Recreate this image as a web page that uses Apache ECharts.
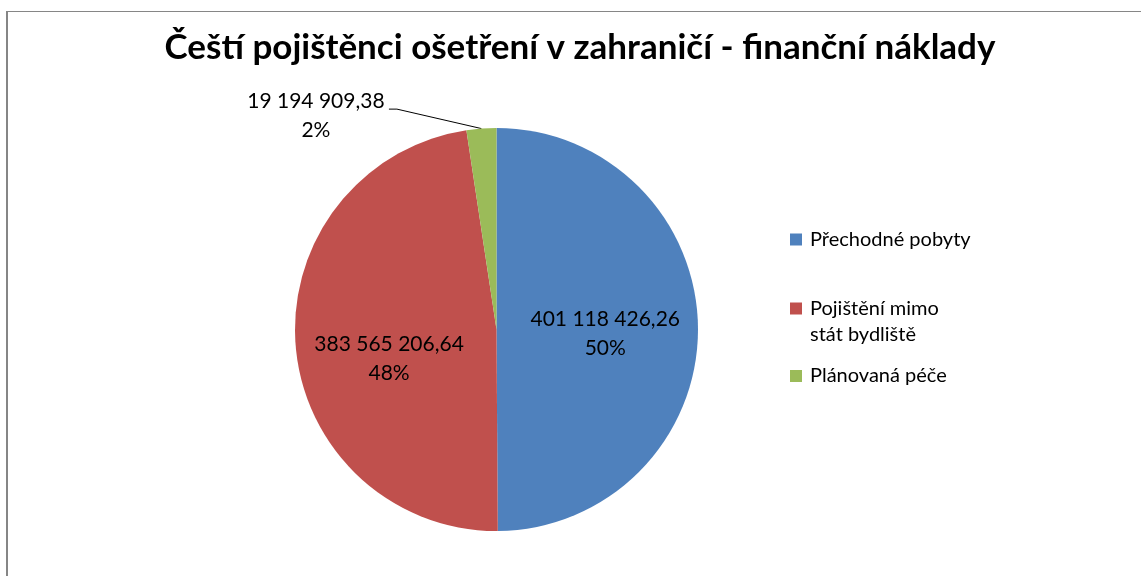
<!DOCTYPE html>
<html>
<head>
<meta charset="utf-8">
<script src="https://cdn.jsdelivr.net/npm/echarts@6/dist/echarts.min.js"></script>
<style>
html, body { margin: 0; padding: 0; background: #fff; }
#pie { width: 1141px; height: 576px; }
</style>
</head>
<body>
<div id="pie"></div>
<script>
var titleText = 'Čeští pojištěnci ošetření v zahraničí - finanční náklady';
var categories = ['Přechodné pobyty', 'Pojištění mimo stát bydliště', 'Plánovaná péče'];
var legendLabels = ['Přechodné pobyty', 'Pojištění mimo\nstát bydliště', 'Plánovaná péče'];
var values = [401118426.26, 383565206.64, 19194909.38];
var colors = ['#4F81BD', '#C0504D', '#9BBB59'];

var pie = echarts.init(document.getElementById('pie'));

// 401 118 426,26
function fmt(v){
    var p = v.toFixed(2).split('.');
    return p[0].replace(/\B(?=(\d{3})+(?!\d))/g, ' ') + ',' + p[1];
}

var data = [];
for (var i = 0; i < categories.length; i++) {
    data.push({ name: categories[i], value: values[i], itemStyle: { color: colors[i] } });
}

// small nudges so the inside labels sit where the original has them
var nudge = [[5, 5], [-4, 21], null];

function oneLegend(idx, top){
    return {
        data: [categories[idx]],
        orient: 'vertical',
        left: 790,
        top: top,
        padding: 0,
        icon: 'rect',
        itemWidth: 12,
        itemHeight: 12,
        formatter: function(name){
            var t = legendLabels[categories.indexOf(name)];
            // two-line entry: blank line on top keeps the square level with the first line
            return t.indexOf('\n') >= 0 ? '\n' + t : t;
        },
        textStyle: {
            fontFamily: 'Lato',
            fontSize: 20,
            lineHeight: 26,
            color: '#000',
            padding: [0, 0, 0, 3]
        }
    };
}

pie.setOption({
    animation: false,
    title: {
        text: titleText,
        left: 580,
        top: 28,
        textAlign: 'center',
        padding: 0,
        textStyle: {
            fontFamily: 'Lato',
            fontWeight: 'bold',
            fontSize: 35,
            lineHeight: 40,
            color: '#000'
        }
    },
    legend: [
        oneLegend(0, 226.5),
        oneLegend(1, 269.5),
        oneLegend(2, 363)
    ],
    graphic: [
        { type: 'line', shape: { x1: 7, y1: 11, x2: 7, y2: 600 }, style: { stroke: '#868686', lineWidth: 2 } },
        { type: 'line', shape: { x1: 6, y1: 11.5, x2: 1200, y2: 11.5 }, style: { stroke: '#868686', lineWidth: 1 } }
    ],
    series: [{
        name: 'Finanční náklady',
        type: 'pie',
        center: [496.5, 329.5],
        radius: 201.5,
        startAngle: 90,
        clockwise: true,
        avoidLabelOverlap: false,
        itemStyle: { borderWidth: 0 },
        label: {
            show: true,
            position: 'inside',
            color: '#000',
            formatter: function(p){
                return '{v|' + fmt(p.value) + '}\n{v|' + Math.round(p.percent) + '%}';
            },
            rich: {
                v: { fontFamily: 'Lato', fontSize: 21, lineHeight: 29, color: '#000', width: 136, align: 'center' }
            }
        },
        labelLine: { show: false },
        labelLayout: function(params){
            var n = nudge[params.dataIndex];
            if (n) return { dx: n[0], dy: n[1] };
            var pts = params.labelLinePoints;
            if (!pts) return {};
            var end = pts[2];
            return { labelLinePoints: [pts[0], [end[0] + 8, end[1]], end] };
        },
        data: data.map(function(d, i){
            if (i !== 2) return d;
            return Object.assign({}, d, {
                label: { position: 'outside', padding: [14, 0, 0, 0] },
                labelLine: { show: true, length: 19.5, length2: 91, smooth: false,
                    lineStyle: { color: '#000', width: 1 } }
            });
        })
    }]
});
</script>
</body>
</html>
